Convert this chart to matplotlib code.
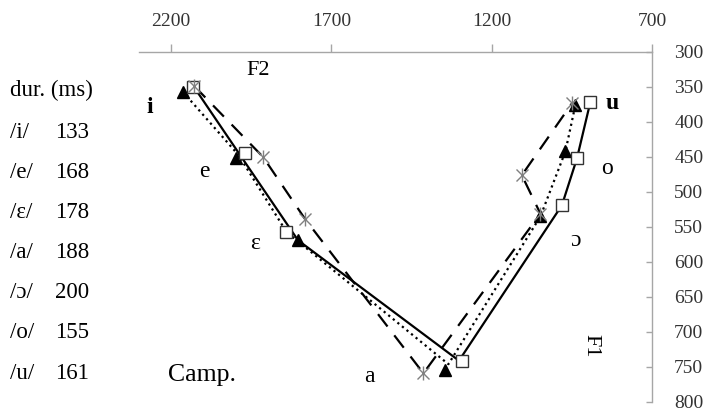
import numpy as np
import matplotlib.pyplot as plt

plt.rcParams['font.family'] = ['Liberation Serif', 'DejaVu Serif']

# vowel durations (left column)
vowels = ['i', 'e', 'ε', 'a', 'ɔ', 'o', 'u']
durations = [133, 168, 178, 188, 200, 155, 161]

# marker positions (F2, F1)
tri_f2 = [2163, 1996, 1804, 1345, 1048, 970, 939]
tri_f1 = [357, 452, 569, 754, 535, 442, 376]
sq_f2 = [2132, 1970, 1840, 1292, 981, 934, 892]
sq_f1 = [350, 445, 557, 742, 519, 452, 371]
star_f2 = [2127, 1913, 1783, 1413, 1048, 1106, 949]
star_f1 = [349, 450, 538, 759, 531, 476, 373]

# line paths (slightly offset from the markers in the original)
solid_f2 = [2127, 1988, 1804, 1302, 981, 934, 892]
solid_f1 = [351, 445, 569, 741, 519, 452, 371]
dotted_f2 = [2163, 1990, 1840, 1335, 1048, 970, 939]
dotted_f1 = [357, 447, 557, 746, 535, 442, 376]

# vowel label positions
lab_f2 = [2267, 2095, 1939, 1580, 939, 840, 825]
lab_f1 = [380, 471, 573, 764, 569, 466, 373]

xticks = [2200, 1700, 1200, 700]
yticks = list(range(300, 801, 50))

fig = plt.figure(figsize=(7.11, 4.12), dpi=100)
ax = fig.add_axes([0.1955, 0.0243, 0.7215, 0.8495])

ax.plot(solid_f2, solid_f1, '-', color='black', lw=1.6)
ax.plot(dotted_f2, dotted_f1, ':', color='black', lw=1.6)
ax.plot(star_f2, star_f1, '--', color='black', lw=1.6, dashes=(7, 5))

ax.plot(tri_f2, tri_f1, '^', color='black', ms=8, ls='none')
ax.plot(sq_f2, sq_f1, 's', mfc='white', mec='#333333', mew=1.0, ms=8, ls='none')
ax.plot(star_f2, star_f1, 'x', color='#808080', ms=9, mew=1.0, ls='none')
ax.plot(star_f2, star_f1, '|', color='#808080', ms=10, mew=1.0, ls='none')

ax.set_xlim(2300, 700)
ax.set_ylim(800, 300)

for sp in ['left', 'bottom']:
    ax.spines[sp].set_visible(False)
for sp in ['top', 'right']:
    ax.spines[sp].set_color('#a6a6a6')
    ax.spines[sp].set_linewidth(1.0)

ax.xaxis.tick_top()
ax.yaxis.tick_right()
ax.set_xticks(xticks)
ax.set_yticks(yticks)
ax.tick_params(axis='x', direction='out', length=6, width=1, color='#a6a6a6',
               labelsize=14, labelcolor='#333333', pad=10)
ax.tick_params(axis='y', direction='in', length=4, width=1, color='#a6a6a6',
               labelsize=14, labelcolor='#333333', pad=16)
for t in ax.get_yticklabels():
    t.set_horizontalalignment('left')

# vowel labels
for v, x, y in zip(vowels, lab_f2, lab_f1):
    w = 'bold' if v in ('i', 'u') else 'normal'
    ax.text(x, y, v, fontsize=17, ha='center', va='center', weight=w)

ax.text(1930, 326, 'F2', fontsize=16, ha='center', va='center')
ax.text(892, 719, 'F1', fontsize=16, ha='center', va='center', rotation=-90)
ax.text(2102, 761, 'Camp.', fontsize=18.5, ha='center', va='center')

# duration column
fig.text(10 / 711, 1 - 90 / 412, 'dur. (ms)', fontsize=16.5, va='center')
for k, (v, d) in enumerate(zip(vowels, durations)):
    y = 1 - (132 + 40.2 * k) / 412
    fig.text(10 / 711, y, '/' + v + '/', fontsize=16.5, va='center')
    fig.text(55 / 711, y, str(d), fontsize=16.5, va='center')

fig.savefig('out.png', dpi=100)
